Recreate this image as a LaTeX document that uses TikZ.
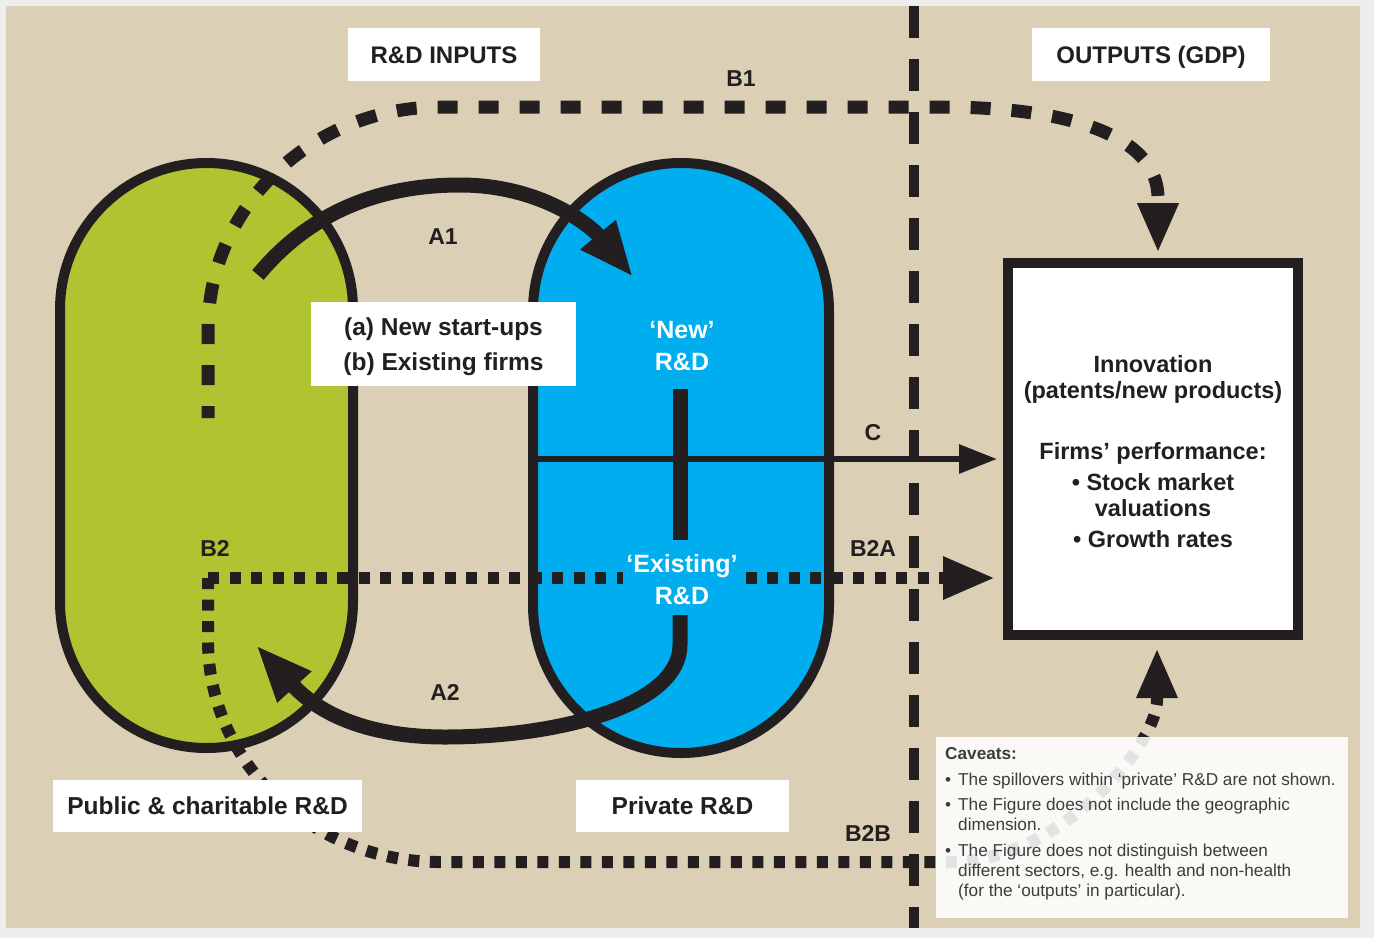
\documentclass[tikz,border=0pt]{standalone}
\usepackage{fontspec}
\setmainfont{Liberation Sans}
\usetikzlibrary{arrows.meta}
\definecolor{page}{RGB}{238,238,238}
\definecolor{beige}{RGB}{219,208,182}
\definecolor{pubgreen}{RGB}{176,196,50}
\definecolor{privblue}{RGB}{0,174,239}
\definecolor{dark}{RGB}{35,31,32}
\definecolor{cavtext}{RGB}{60,60,60}
\begin{document}
\begin{tikzpicture}[x=1pt,y=-1pt,
  lbl/.style={font=\fontsize{23}{26}\selectfont\bfseries, text=dark},
  wlbl/.style={font=\fontsize{25}{32}\selectfont\bfseries, text=white, align=center},
  wbox/.style={fill=white, inner sep=0pt, font=\fontsize{24.5}{26}\selectfont\bfseries, text=dark, align=center},
  hbox/.style={wbox, minimum height=53pt, text height=17.5pt, text depth=0pt, font=\fontsize{24}{26}\selectfont\bfseries},
  blob/.style={draw=dark, line width=10pt},
  thickline/.style={draw=dark, line width=15pt},
  cline/.style={draw=dark, line width=6pt},
  divider/.style={draw=dark, line width=10pt, dash pattern=on 32pt off 21pt},
  dashline/.style={draw=dark, line width=13pt, dash pattern=on 20pt off 21pt},
  dotline/.style={draw=dark, line width=12pt, dash pattern=on 11pt off 10.5pt},
]
\useasboundingbox (0,0) rectangle (1374,938);
\fill[page] (0,0) rectangle (1374,938);
\fill[beige] (6,6) rectangle (1360,928);

% divider between inputs and outputs
\coordinate (divtop) at (914,6);
\coordinate (divbot) at (914,928);
\draw[divider] (divtop) -- (divbot);

% blobs
\draw[blob, fill=pubgreen, rounded corners=146.5pt] (60,163) rectangle (353,748);
\draw[blob, fill=privblue, rounded corners=148pt] (533,163) rectangle (829,753);

% coordinates
\coordinate (cstart) at (533,459);
\coordinate (cend) at (997,459);
\coordinate (vtop) at (680,389);
\coordinate (vbot) at (680,540);
\coordinate (a1s) at (258,275);
\coordinate (a1e) at (633,277);
\coordinate (a2s) at (680,615);
\coordinate (a2e) at (256,645);
\coordinate (b1s) at (208,418);
\coordinate (b1e) at (1158,253);
\coordinate (b2) at (208,578);
\coordinate (b2ae) at (995,578);
\coordinate (b2be) at (1157,648);

% C
\draw[cline, -{Triangle[length=38pt,width=28pt]}] (cstart) -- (cend);
% vertical link inside private R&D
\draw[thickline] (vtop) -- (vbot);
% A1
\draw[thickline, -{Triangle[length=55pt,width=42pt]}] (a1s) .. controls (320,200) and (400,185) .. (460,185) .. controls (540,185) and (590,225) .. (a1e);
% A2
\draw[thickline, -{Triangle[length=57pt,width=42pt]}] (a2s) -- (680,645) .. controls (680,705) and (560,737) .. (445,737) .. controls (370,737) and (320,715) .. (a2e);
% B1
\draw[dashline, dash phase=8pt, -{Triangle[length=50pt,width=38pt]}] (b1s) -- (208,330) .. controls (208,207) and (312,107) .. (440,107) -- (940,107) .. controls (1080,107) and (1158,140) .. (1158,198) -- (b1e);
% B2A
\draw[dotline, -{Triangle[length=52pt,width=40pt]}] (b2) -- (b2ae);
% B2B
\draw[dotline, -{Triangle[length=50pt,width=38pt]}] (b2) -- (208,640) .. controls (208,763) and (312,862) .. (440,862) -- (950,862) .. controls (1060,862) and (1157,745) .. (1157,700) -- (b2be);

% labels on the connectors
\node[lbl] (lb1) at (741,79) {B1};
\node[lbl] (la1) at (443,237) {A1};
\node[lbl] (lc) at (873,433) {C};
\node[lbl] (lb2) at (215,548) {B2};
\node[lbl] (lb2a) at (873,548) {B2A};
\node[lbl] (la2) at (445,692) {A2};
\node[lbl] (lb2b) at (868,833) {B2B};

% blob texts
\node[wlbl] (new) at (682,346) {‘New’\\R\&D};
\node[wlbl, fill=privblue, inner sep=3pt] (existing) at (682,580) {‘Existing’\\R\&D};

% white boxes
\node[hbox, minimum width=192pt] (inputs) at (444,54.5) {R\&D INPUTS};
\node[hbox, minimum width=238pt] (outputs) at (1151,54.5) {OUTPUTS (GDP)};
\node[wbox, minimum width=265pt, minimum height=84pt, text depth=0pt] (firms) at (443.5,344) {(a) New start-ups\\[9pt](b) Existing firms};
\node[wbox, minimum width=309pt, minimum height=52pt] (public) at (207.5,806) {Public \& charitable R\&D};
\node[wbox, minimum width=213pt, minimum height=52pt] (private) at (682.5,806) {Private R\&D};

% output box
\node[draw=dark, line width=10pt, fill=white, minimum width=290pt, minimum height=372pt, align=center,
  font=\fontsize{23.5}{26}\selectfont\bfseries, text=dark] (out) at (1153,449)
  {\\[-4pt]Innovation\\(patents/new products)\\[35pt]Firms’ performance:\\[5pt]• Stock market\\valuations\\[5pt]• Growth rates};

% caveats
\node[fill=white, fill opacity=0.88, minimum width=412pt, minimum height=181pt, anchor=north west, inner sep=0pt] (cav) at (936,737) {};
\node[anchor=north west, inner sep=0pt, align=left, text=cavtext, font=\fontsize{17.2}{20}\selectfont] (cavtxt) at (945,747)
  {\textbf{Caveats:}\\[6pt]
   •\hspace{7pt}The spillovers within ‘private’ R\&D are not shown.\\[5pt]
   •\hspace{7pt}The Figure does not include the geographic\\
   \hphantom{•\hspace{7pt}}dimension.\\[6pt]
   •\hspace{7pt}The Figure does not distinguish between\\
   \hphantom{•\hspace{7pt}}different sectors, e.g. health and non-health\\
   \hphantom{•\hspace{7pt}}(for the ‘outputs’ in particular).};
\end{tikzpicture}
\end{document}
